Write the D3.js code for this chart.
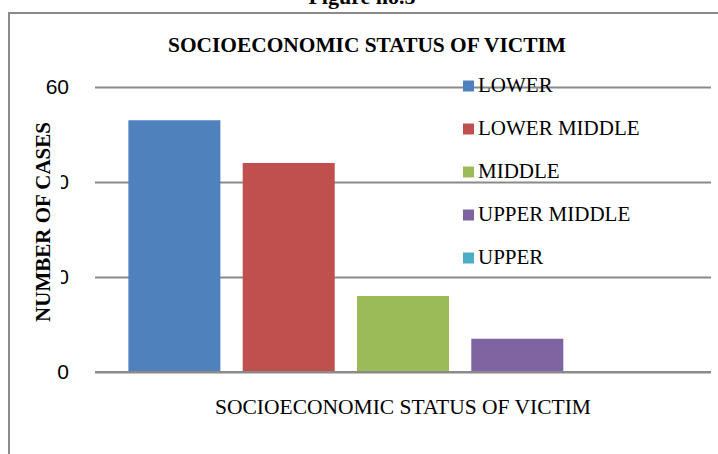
<!DOCTYPE html>
<html>
<head>
<meta charset="utf-8">
<script src="https://cdn.jsdelivr.net/npm/d3@7"></script>
<style>
  body { margin: 0; background: #fff; }
  svg { display: block; }
</style>
</head>
<body>
<div id="chartTarget"></div>
<script>
  // data
  const category = 'SOCIOECONOMIC STATUS OF VICTIM';
  const series = ['LOWER', 'LOWER MIDDLE', 'MIDDLE', 'UPPER MIDDLE', 'UPPER'];
  const values = [53, 44, 16, 7, 0];
  const colors = ['#4F81BD', '#C0504D', '#9BBB59', '#8064A2', '#4BACC6'];
  const yTicks = [0, 20, 40, 60];

  const width = 718;
  const height = 454;
  const plot = {left: 95, right: 711, top: 87, bottom: 372};

  let svg = d3.select('#chartTarget').append('svg')
    .attr('width', width)
    .attr('height', height);

  // figure caption, cut by top of the page
  svg.append('text')
    .attr('x', 362)
    .attr('y', 4)
    .attr('text-anchor', 'middle')
    .style('font', 'bold 22px "Liberation Serif", "Times New Roman", serif')
    .text('Figure no.5');

  // chart border (runs past right and bottom edge)
  svg.append('rect')
    .attr('x', 9)
    .attr('y', 13)
    .attr('width', width + 20)
    .attr('height', height + 20)
    .attr('fill', '#fff')
    .attr('stroke', '#8a8a8a')
    .attr('stroke-width', 2);

  let y = d3.scaleLinear()
    .domain([0, 60])
    .range([plot.bottom, plot.top]);

  let x = d3.scaleBand()
    .domain(series)
    .range([plot.left, plot.right])
    .paddingInner(0.195)
    .paddingOuter(0.292);

  let yAxis = d3.axisLeft(y)
    .tickValues(yTicks)
    .tickSizeInner(-(plot.right - plot.left))
    .tickSizeOuter(0)
    .tickPadding(26);

  let gy = svg.append('g')
    .attr('transform', `translate(${plot.left},0)`)
    .call(yAxis);
  gy.select('.domain').remove();
  gy.selectAll('line').attr('stroke', '#8a8a8a').attr('stroke-width', 2);
  gy.selectAll('text')
    .attr('fill', '#000')
    .style('font', '21px "Liberation Sans", Arial, sans-serif');

  svg.selectAll('.bar')
    .data(series)
    .enter().append('rect')
      .attr('class', 'bar')
      .attr('x', d => x(d))
      .attr('y', (d, i) => y(values[i]))
      .attr('width', x.bandwidth())
      .attr('height', (d, i) => y(0) - y(values[i]))
      .attr('fill', (d, i) => colors[i]);

  // redraw zero line over bars
  svg.append('line')
    .attr('x1', plot.left).attr('x2', plot.right)
    .attr('y1', y(0)).attr('y2', y(0))
    .attr('stroke', '#8a8a8a').attr('stroke-width', 2);

  // chart title
  svg.append('text')
    .attr('x', 367)
    .attr('y', 52)
    .attr('text-anchor', 'middle')
    .style('font', 'bold 21.4px "Liberation Serif", "Times New Roman", serif')
    .text(category);

  // legend
  let legend = svg.append('g');
  series.forEach((s, i) => {
    let ly = 92 + i * 43;
    legend.append('rect')
      .attr('x', 463).attr('y', ly - 11.5)
      .attr('width', 11).attr('height', 11)
      .attr('fill', colors[i]);
    legend.append('text')
      .attr('x', 478).attr('y', ly)
      .style('font', '21px "Liberation Serif", "Times New Roman", serif')
      .text(s);
  });

  // y axis title, its white box hides part of the tick labels
  svg.append('rect')
    .attr('x', 30).attr('y', 112)
    .attr('width', 31).attr('height', 220)
    .attr('fill', '#fff');
  svg.append('text')
    .attr('transform', 'translate(50,222) rotate(-90)')
    .attr('text-anchor', 'middle')
    .style('font', 'bold 21px "Liberation Serif", "Times New Roman", serif')
    .text('NUMBER OF CASES');

  // x axis title
  svg.append('text')
    .attr('x', 403)
    .attr('y', 414)
    .attr('text-anchor', 'middle')
    .style('font', '21.5px "Liberation Serif", "Times New Roman", serif')
    .text(category);
</script>
</body>
</html>
